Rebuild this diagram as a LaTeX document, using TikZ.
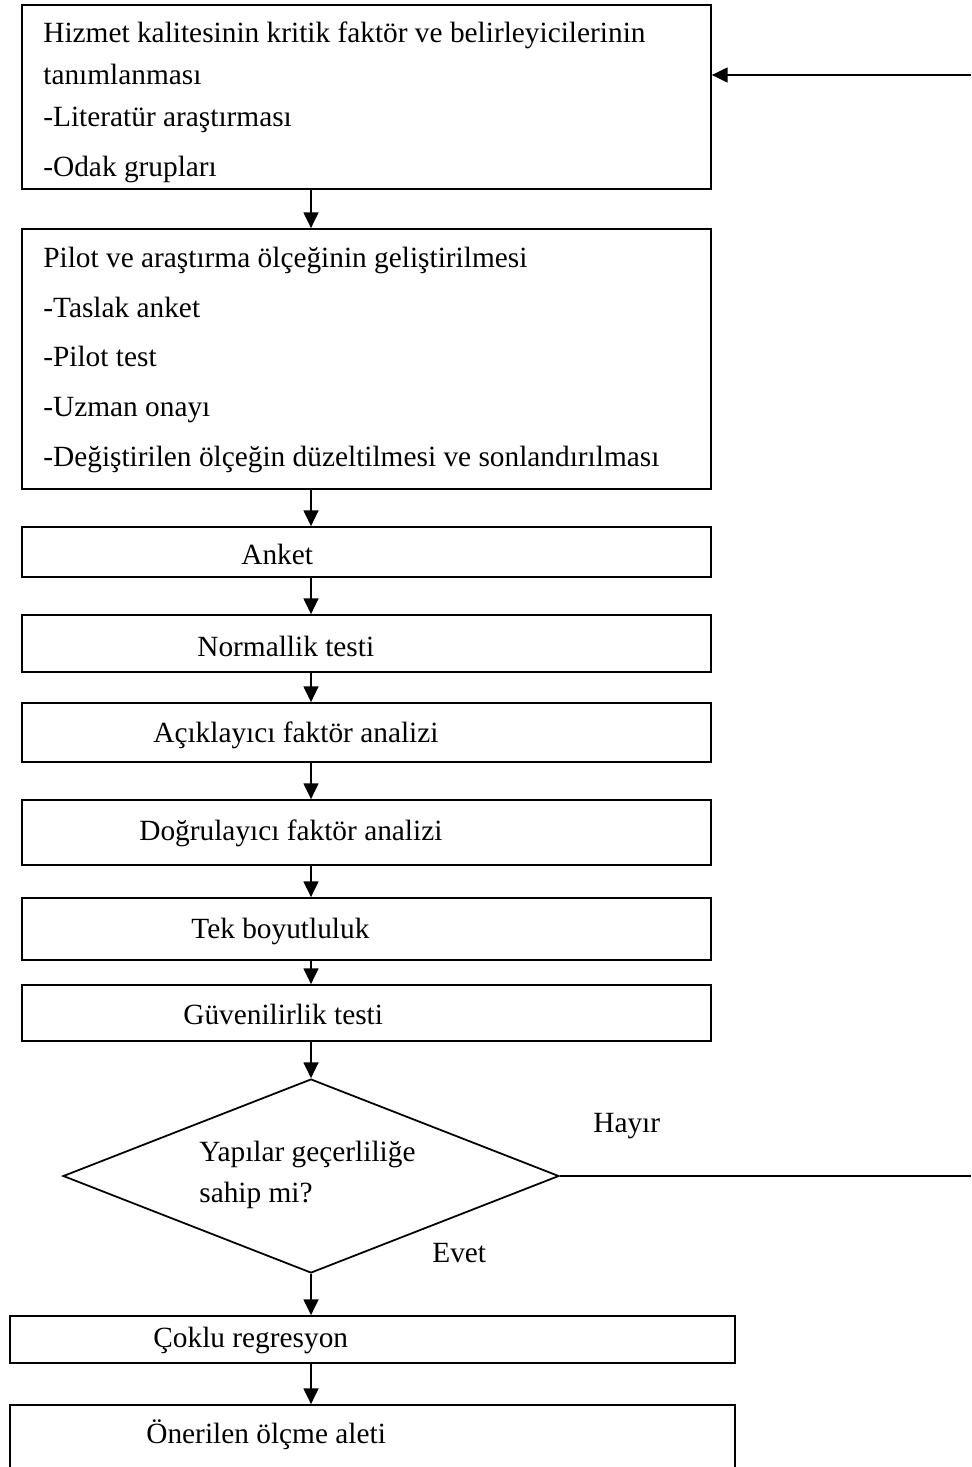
\documentclass[tikz,border=0pt]{standalone}
\usepackage{fontspec}
\setmainfont{Liberation Serif}
\usetikzlibrary{arrows.meta}
\usetikzlibrary{fit}
\usetikzlibrary{shapes.geometric}

\begin{document}
\begin{tikzpicture}[x=0.02cm,y=-0.02cm,
    box/.style={draw,rectangle,line width=1pt,inner sep=0pt},
    txt/.style={inner sep=0pt,anchor=base west,font=\fontsize{16.7}{20}\selectfont},
    flow/.style={draw,line width=1pt,-{Triangle[length=9pt,width=8.5pt]}}]

  \useasboundingbox (0,0) rectangle (971,1467);
  \clip (0,0) rectangle (971,1467);

  \coordinate (axis) at (311,0);

  % steps
  \node [box,fit={(22,5) (711,189)}] (kalite) {};
  \node [txt] (kalite1) at (43,42)  {Hizmet kalitesinin kritik faktör ve belirleyicilerinin};
  \node [txt] (kalite2) at (43,84)  {tanımlanması};
  \node [txt] (kalite3) at (43,126) {-Literatür araştırması};
  \node [txt] (kalite4) at (43,176) {-Odak grupları};

  \node [box,fit={(22,229) (711,489)}] (olcek) {};
  \node [txt] (olcek1) at (43,267) {Pilot ve araştırma ölçeğinin geliştirilmesi};
  \node [txt] (olcek2) at (43,317) {-Taslak anket};
  \node [txt] (olcek3) at (43,366) {-Pilot test};
  \node [txt] (olcek4) at (43,416) {-Uzman onayı};
  \node [txt] (olcek5) at (43,466) {-Değiştirilen ölçeğin düzeltilmesi ve sonlandırılması};

  \node [box,fit={(22,527) (711,577)}] (anket) {};
  \node [txt] (anketlab) at (241,564) {Anket};

  \node [box,fit={(22,615) (711,672)}] (normal) {};
  \node [txt] (normallab) at (197,656) {Normallik testi};

  \node [box,fit={(22,703) (711,762)}] (afa) {};
  \node [txt] (afalab) at (153,742) {Açıklayıcı faktör analizi};

  \node [box,fit={(22,800) (711,865)}] (dfa) {};
  \node [txt] (dfalab) at (139,840) {Doğrulayıcı faktör analizi};

  \node [box,fit={(22,898) (711,960)}] (boyut) {};
  \node [txt] (boyutlab) at (191,938) {Tek boyutluluk};

  \node [box,fit={(22,985) (711,1041)}] (guven) {};
  \node [txt] (guvenlab) at (183,1024) {Güvenilirlik testi};

  % decision
  \node [draw,diamond,line width=1pt,inner sep=0pt,minimum width=9.92cm,minimum height=3.88cm] (karar) at (311,1176) {};
  \node [txt] (karar1) at (199,1161) {Yapılar geçerliliğe};
  \node [txt] (karar2) at (199,1202) {sahip mi?};
  \node [txt] (hayir) at (593,1132) {Hayır};
  \node [txt] (evet) at (432,1262) {Evet};

  \node [box,fit={(10,1316) (735,1363)}] (regres) {};
  \node [txt] (regreslab) at (153,1347) {Çoklu regresyon};

  \node [box,fit={(10,1405) (735,1490)}] (alet) {};
  \node [txt] (aletlab) at (146,1443) {Önerilen ölçme aleti};

  % connectors
  \draw [flow] (kalite.south -| axis) -- (olcek.north -| axis);
  \draw [flow] (olcek.south -| axis)  -- (anket.north -| axis);
  \draw [flow] (anket.south -| axis)  -- (normal.north -| axis);
  \draw [flow] (normal.south -| axis) -- (afa.north -| axis);
  \draw [flow] (afa.south -| axis)    -- (dfa.north -| axis);
  \draw [flow] (dfa.south -| axis)    -- (boyut.north -| axis);
  \draw [flow] (boyut.south -| axis)  -- (guven.north -| axis);
  \draw [flow] (guven.south -| axis)  -- (karar.north);
  \draw [flow] (karar.south)          -- (regres.north -| axis);
  \draw [flow] (regres.south -| axis) -- (alet.north -| axis);

  % loop back
  \coordinate (donus_alt) at (971,1176);
  \coordinate (donus_ust) at (971,75);
  \draw [line width=1pt] (karar.east) -- (donus_alt);
  \draw [flow] (donus_ust) -- (kalite.east |- donus_ust);

\end{tikzpicture}
\end{document}
